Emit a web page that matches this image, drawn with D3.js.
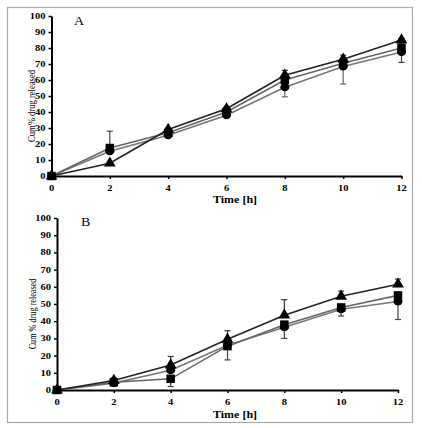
<!DOCTYPE html>
<html><head><meta charset="utf-8">
<script src="https://cdn.jsdelivr.net/npm/d3@7"></script>
<style>body{margin:0;background:#fff}svg{display:block}</style>
</head><body>
<script>
const times = [0, 2, 4, 6, 8, 10, 12];
const yTicks = [0, 10, 20, 30, 40, 50, 60, 70, 80, 90, 100];
const xTicks = [0, 2, 4, 6, 8, 10, 12];

// Panel A
const aTriangle = [0, 8, 29, 42, 63, 73, 85];
const aTriangleErrUp = [0, 0, 1, 1, 3, 2.5, 1];
const aTriangleErrDown = [0, 0, 1, 1, 1, 1, 1];
const aSquare = [0, 17.5, 27, 40, 60, 70.5, 80];
const aSquareErrUp = [0, 10.5, 1, 1, 1, 1, 3];
const aSquareErrDown = [0, 1, 1, 1, 1, 1, 9];
const aCircle = [0, 15.5, 25.5, 38, 55.5, 68.5, 77.5];
const aCircleErrUp = [0, 1, 1, 1, 1, 1, 1];
const aCircleErrDown = [0, 1, 1, 1, 6, 11, 1];

// Panel B
const bTriangle = [0, 5.5, 14.5, 29.5, 43.5, 54.5, 61.5];
const bTriangleErrUp = [0, 1.5, 5, 5, 9, 3, 3];
const bTriangleErrDown = [0, 1, 1, 1, 1, 1, 1];
const bSquare = [0, 4.5, 6.5, 25.5, 38, 48, 55];
const bSquareErrUp = [0, 1, 1, 1, 1, 1, 1];
const bSquareErrDown = [0, 1, 4.5, 8, 1, 1, 1];
const bCircle = [0, 4, 11.5, 26, 36.5, 47, 51.5];
const bCircleErrUp = [0, 1, 1, 1, 1, 1, 1];
const bCircleErrDown = [0, 1, 1, 1, 6.5, 4, 10.5];

const W = 422, H = 428;
const SQ = 0.82; // vertical squash of the original picture
const svg = d3.select("body").append("svg").attr("width", W).attr("height", H);
svg.append("rect").attr("x", 7.5).attr("y", 7.5).attr("width", 405).attr("height", 415)
  .attr("fill", "none").attr("stroke", "#aaa").attr("stroke-width", 1.2);

const font = "'Liberation Serif', 'Times New Roman', serif";

function hText(g, tx, ty, str, opts) {
  return g.append("text").attr("transform", `translate(${tx},${ty}) scale(1,${SQ})`)
    .attr("font-family", font).attr("font-size", opts.size)
    .attr("font-weight", opts.bold ? "bold" : "normal")
    .attr("text-anchor", opts.anchor || "start").attr("fill", "#000").text(str);
}

function drawPanel(p) {
  const x = d3.scaleLinear().domain([0, 12]).range([p.x0, p.x1]);
  const y = d3.scaleLinear().domain([0, 100]).range([p.y0, p.y1]);
  const g = svg.append("g");

  const xAxis = g.append("g").attr("transform", `translate(0,${p.y0})`)
    .call(d3.axisBottom(x).tickValues(xTicks).tickSize(3).tickSizeOuter(0).tickFormat(""));
  const yAxis = g.append("g").attr("transform", `translate(${p.x0},0)`)
    .call(d3.axisLeft(y).tickValues(yTicks).tickSize(3).tickSizeOuter(0).tickFormat(""));
  [xAxis, yAxis].forEach(a => {
    a.select(".domain").attr("stroke", "#000").attr("stroke-width", 2);
    a.selectAll(".tick line").attr("stroke", "#000").attr("stroke-width", 1.5);
  });

  xTicks.forEach(t => hText(g, x(t), p.y0 + p.xLabOff, String(t), { size: 10.5, bold: true, anchor: "middle" }));
  yTicks.forEach(t => hText(g, p.x0 - p.yLabOff, y(t) + 3, String(t), { size: 10.5, bold: true, anchor: "end" }));

  hText(g, p.labelX, p.labelY, p.label, { size: 14 });
  g.append("text").attr("transform", `translate(${p.ytX},${p.ytY}) rotate(-90) scale(${SQ},1)`)
    .attr("text-anchor", "middle").attr("font-family", font).attr("font-size", p.ytSize)
    .text(p.yTitle);
  hText(g, p.xtX, p.xtY, "Time [h]", { size: 12, bold: true, anchor: "middle" });

  const line = d3.line().x((d, i) => x(times[i])).y(d => y(d));
  p.series.forEach(s => {
    g.append("path").datum(s.values).attr("d", line).attr("fill", "none")
      .attr("stroke", s.lineColor).attr("stroke-width", 1.6);
  });
  p.series.forEach(s => {
    s.values.forEach((v, i) => {
      const up = s.errUp[i], dn = s.errDown[i];
      if (up + dn <= 0) return;
      const cx = x(times[i]);
      const yt = y(v + up), yb = y(v - dn);
      g.append("line").attr("x1", cx).attr("x2", cx).attr("y1", yt).attr("y2", yb)
        .attr("stroke", s.errColor).attr("stroke-width", 1.2);
      [yt, yb].forEach(yy => g.append("line").attr("x1", cx - 3).attr("x2", cx + 3)
        .attr("y1", yy).attr("y2", yy).attr("stroke", s.errColor).attr("stroke-width", 1.2));
    });
  });
  p.series.forEach(s => {
    g.selectAll(null).data(s.values).enter().append("path")
      .attr("transform", (d, i) => `translate(${x(times[i])},${y(d)}) scale(1,${s.sy || 1})`)
      .attr("d", d3.symbol().type(s.symbol).size(s.size))
      .attr("fill", "#000");
  });
}

drawPanel({
  x0: 51.5, x1: 401.5, y0: 176, y1: 16, xLabOff: 15, yLabOff: 6,
  label: "A", labelX: 74, labelY: 25,
  yTitle: "Cum% drug released", ytX: 34.5, ytY: 106, ytSize: 10.5,
  xtX: 235, xtY: 203,
  series: [
    { values: aCircle, errUp: aCircleErrUp, errDown: aCircleErrDown, symbol: d3.symbolCircle, size: 64, sy: 0.9, lineColor: "#777", errColor: "#666" },
    { values: aSquare, errUp: aSquareErrUp, errDown: aSquareErrDown, symbol: d3.symbolSquare, size: 72, lineColor: "#666", errColor: "#444" },
    { values: aTriangle, errUp: aTriangleErrUp, errDown: aTriangleErrDown, symbol: d3.symbolTriangle, size: 60, lineColor: "#222", errColor: "#333" }
  ]
});

drawPanel({
  x0: 57, x1: 398, y0: 390, y1: 218, xLabOff: 15, yLabOff: 6,
  label: "B", labelX: 81, labelY: 226,
  yTitle: "Cum % drug released", ytX: 36, ytY: 314, ytSize: 10,
  xtX: 235, xtY: 418,
  series: [
    { values: bCircle, errUp: bCircleErrUp, errDown: bCircleErrDown, symbol: d3.symbolCircle, size: 64, sy: 0.9, lineColor: "#777", errColor: "#444" },
    { values: bSquare, errUp: bSquareErrUp, errDown: bSquareErrDown, symbol: d3.symbolSquare, size: 72, lineColor: "#666", errColor: "#444" },
    { values: bTriangle, errUp: bTriangleErrUp, errDown: bTriangleErrDown, symbol: d3.symbolTriangle, size: 60, lineColor: "#222", errColor: "#333" }
  ]
});
</script>
</body></html>
